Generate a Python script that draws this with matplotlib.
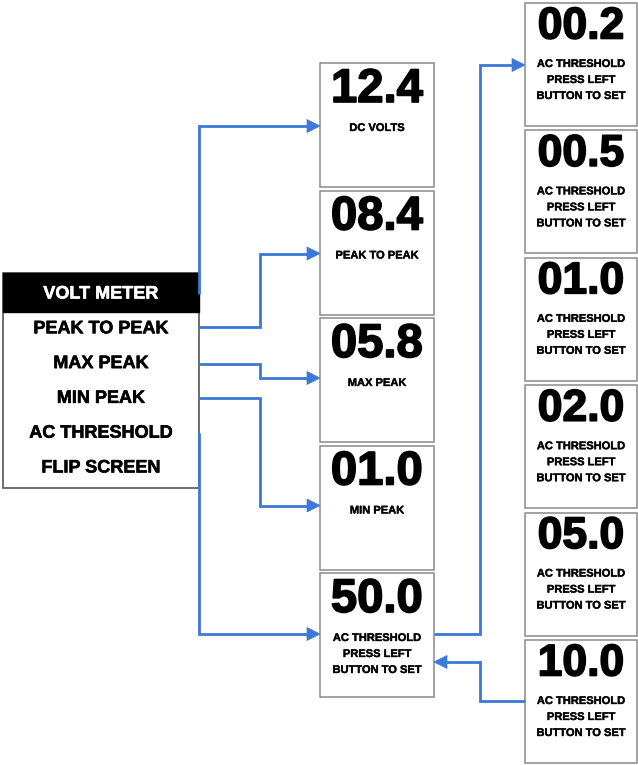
import matplotlib
matplotlib.use("Agg")
import matplotlib.pyplot as plt
import matplotlib.patheffects as pe
from matplotlib.patches import Rectangle, Polygon

# ---- data ----
menu_items = ["VOLT METER", "PEAK TO PEAK", "MAX PEAK", "MIN PEAK", "AC THRESHOLD", "FLIP SCREEN"]
mid_values = ["12.4", "08.4", "05.8", "01.0", "50.0"]
mid_labels = ["DC VOLTS", "PEAK TO PEAK", "MAX PEAK", "MIN PEAK",
              "AC THRESHOLD\nPRESS LEFT\nBUTTON TO SET"]
right_values = ["00.2", "00.5", "01.0", "02.0", "05.0", "10.0"]
right_label = "AC THRESHOLD\nPRESS LEFT\nBUTTON TO SET"

BLUE = "#3b78d8"
EDGE = "#8a8a8a"
FONT = "Liberation Sans"

W, H = 638, 765
fig = plt.figure(figsize=(W / 100, H / 100), dpi=100)
ax = fig.add_axes([0, 0, 1, 1])
ax.set_xlim(0, W)
ax.set_ylim(H, 0)
ax.axis("off")

def heavy(w, color="black"):
    return [pe.withStroke(linewidth=w, foreground=color)]

# ---- menu box ----
mx0, mx1, my0, row_h = 3, 199, 273, 35.5
ax.add_patch(Rectangle((mx0, my0), mx1 - mx0, row_h * len(menu_items) + 2,
                       facecolor="white", edgecolor="#555555", lw=1.2, zorder=2))
ax.add_patch(Rectangle((mx0, my0), mx1 - mx0, 39, facecolor="black",
                       edgecolor="black", lw=1, zorder=3))
menu_y = []
for i, item in enumerate(menu_items):
    y = 294 + i * 34.8
    menu_y.append(y)
    col = "white" if i == 0 else "black"
    ax.text((mx0 + mx1) / 2, y, item, ha="center", va="center",
            fontsize=13, fontweight="bold", family=FONT,
            color=col, zorder=4, path_effects=heavy(0.4, col))

# ---- boxes ----
def draw_box(x0, top, w, h, value, label, num_off, lab_off, fs):
    ax.add_patch(Rectangle((x0, top), w, h, facecolor="white",
                           edgecolor=EDGE, lw=1.1, zorder=2))
    ax.text(x0 + w / 2, top + num_off, value, ha="center", va="center",
            fontsize=fs, fontweight="bold", family=FONT, zorder=3,
            path_effects=heavy(1.2))
    ax.text(x0 + w / 2, top + lab_off, label, ha="center", va="top",
            fontsize=8, fontweight="bold", family=FONT, zorder=3,
            linespacing=1.75, path_effects=heavy(0.3, "#222222"))

mid_x, mid_w, mid_h, mid_step, mid_top = 320, 114, 124, 127.5, 63
mid_tops = []
for i, (v, l) in enumerate(zip(mid_values, mid_labels)):
    top = mid_top + i * mid_step
    mid_tops.append(top)
    draw_box(mid_x, top, mid_w, mid_h, v, l, 27, 60, 34)

r_x, r_w, r_h, r_step, r_top = 525, 112, 123, 127.4, 3
r_tops = []
for i, v in enumerate(right_values):
    top = r_top + i * r_step
    r_tops.append(top)
    draw_box(r_x, top, r_w, r_h, v, right_label, 24, 56, 32)

# ---- connectors ----
def connector(points, direction):
    xs = [p[0] for p in points]
    ys = [p[1] for p in points]
    tip = points[-1]
    L, hw = 13, 6.5
    if direction == "right":
        xs[-1] = tip[0] - L + 1
        tri = [(tip[0], tip[1]), (tip[0] - L, tip[1] - hw), (tip[0] - L, tip[1] + hw)]
    else:
        xs[-1] = tip[0] + L - 1
        tri = [(tip[0], tip[1]), (tip[0] + L, tip[1] - hw), (tip[0] + L, tip[1] + hw)]
    ax.plot(xs, ys, color=BLUE, lw=2.0, solid_joinstyle="miter",
            solid_capstyle="butt", zorder=5)
    ax.add_patch(Polygon(tri, closed=True, facecolor=BLUE, edgecolor=BLUE,
                         lw=0.5, zorder=5))

jx = 260
lab_y = [t + 63 for t in mid_tops]
connector([(mx1, menu_y[0]), (mx1, lab_y[0]), (mid_x, lab_y[0])], "right")
connector([(mx1, menu_y[1] - 2), (jx, menu_y[1] - 2), (jx, lab_y[1]), (mid_x, lab_y[1])], "right")
connector([(mx1, menu_y[2]), (jx, menu_y[2]), (jx, lab_y[2] - 3), (mid_x, lab_y[2] - 3)], "right")
connector([(mx1, menu_y[3]), (jx, menu_y[3]), (jx, lab_y[3] - 3), (mid_x, lab_y[3] - 3)], "right")
connector([(mx1, menu_y[4]), (mx1, mid_tops[4] + 61), (mid_x, mid_tops[4] + 61)], "right")

kx = 480
connector([(mid_x + mid_w, mid_tops[4] + 61), (kx, mid_tops[4] + 61),
           (kx, r_tops[0] + 62), (r_x, r_tops[0] + 62)], "right")
connector([(r_x, r_tops[5] + 61), (kx, r_tops[5] + 61),
           (kx, mid_tops[4] + 89), (mid_x + mid_w, mid_tops[4] + 89)], "left")

fig.savefig("out.png", dpi=100, facecolor="white")
